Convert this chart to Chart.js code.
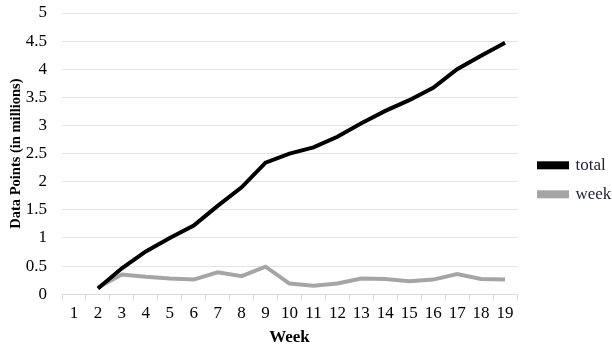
<!DOCTYPE html>
<html lang="en">
<head>
  <meta charset="UTF-8">
  <title>Data Points per Week</title>
  <script src="https://cdn.jsdelivr.net/npm/chart.js"></script>
  <style>
    body { margin: 0; background: #fff; }
    #wrap { width: 612px; height: 351px; }
  </style>
</head>
<body>
  <div id="wrap"><canvas id="chart"></canvas></div>
  <script>
    const weeks = ['1','2','3','4','5','6','7','8','9','10','11','12','13','14','15','16','17','18','19'];
    const totalValues = [null, 0.1, 0.46, 0.76, 1.0, 1.22, 1.57, 1.9, 2.34, 2.5, 2.61, 2.8, 3.04, 3.26, 3.45, 3.67, 4.0, 4.24, 4.47];
    const weekValues = [null, 0.12, 0.35, 0.31, 0.28, 0.26, 0.39, 0.32, 0.49, 0.19, 0.15, 0.19, 0.28, 0.27, 0.23, 0.26, 0.36, 0.27, 0.26];

    const serif = "'Liberation Serif', 'Times New Roman', serif";

    new Chart(document.getElementById('chart'), {
      type: 'line',
      data: {
        labels: weeks,
        datasets: [
          {
            label: 'total',
            data: totalValues,
            borderColor: '#000000',
            backgroundColor: '#000000',
            borderWidth: 4,
            pointRadius: 0,
            tension: 0
          },
          {
            label: 'week',
            data: weekValues,
            borderColor: '#a5a5a5',
            backgroundColor: '#a5a5a5',
            borderWidth: 4,
            pointRadius: 0,
            tension: 0
          }
        ]
      },
      options: {
        responsive: true,
        maintainAspectRatio: false,
        animation: false,
        layout: { padding: { top: 2, right: 0, left: 2, bottom: 3 } },
        plugins: {
          tooltip: { enabled: false },
          legend: {
            position: 'right',
            maxWidth: 85,
            title: { display: true, text: ' ', padding: 0, font: { size: 8 } },
            labels: {
              boxWidth: 28,
              boxHeight: 4,
              padding: 12,
              color: '#232338',
              font: { family: serif, size: 17 }
            }
          }
        },
        scales: {
          x: {
            offset: true,
            grid: { drawOnChartArea: false, drawTicks: true, offset: true, tickLength: 6, color: '#d9d9d9' },
            border: { color: '#d9d9d9' },
            ticks: { color: '#000', font: { family: serif, size: 17 }, padding: 3, maxRotation: 0, autoSkip: false },
            title: { display: true, text: 'Week', color: '#000', font: { family: serif, size: 17, weight: 'bold' }, padding: { top: 1, bottom: 0 } }
          },
          y: {
            min: 0,
            max: 5,
            grid: { color: '#e3e3e3', drawTicks: false },
            border: { display: false },
            ticks: {
              stepSize: 0.5,
              color: '#000',
              padding: 15,
              font: { family: serif, size: 17 },
              callback: v => String(v)
            },
            title: { display: true, text: 'Data Points (in millions)', color: '#000', font: { family: serif, size: 14.5, weight: 'bold' }, padding: { top: 6, bottom: 2 } },
            afterFit: scale => { scale.width = 60; scale.paddingTop = 13; }
          },
          gap: {
            position: 'right',
            display: true,
            grid: { display: false },
            border: { display: false },
            ticks: { display: false },
            afterFit: scale => { scale.width = 10; }
          }
        }
      }
    });
  </script>
</body>
</html>
